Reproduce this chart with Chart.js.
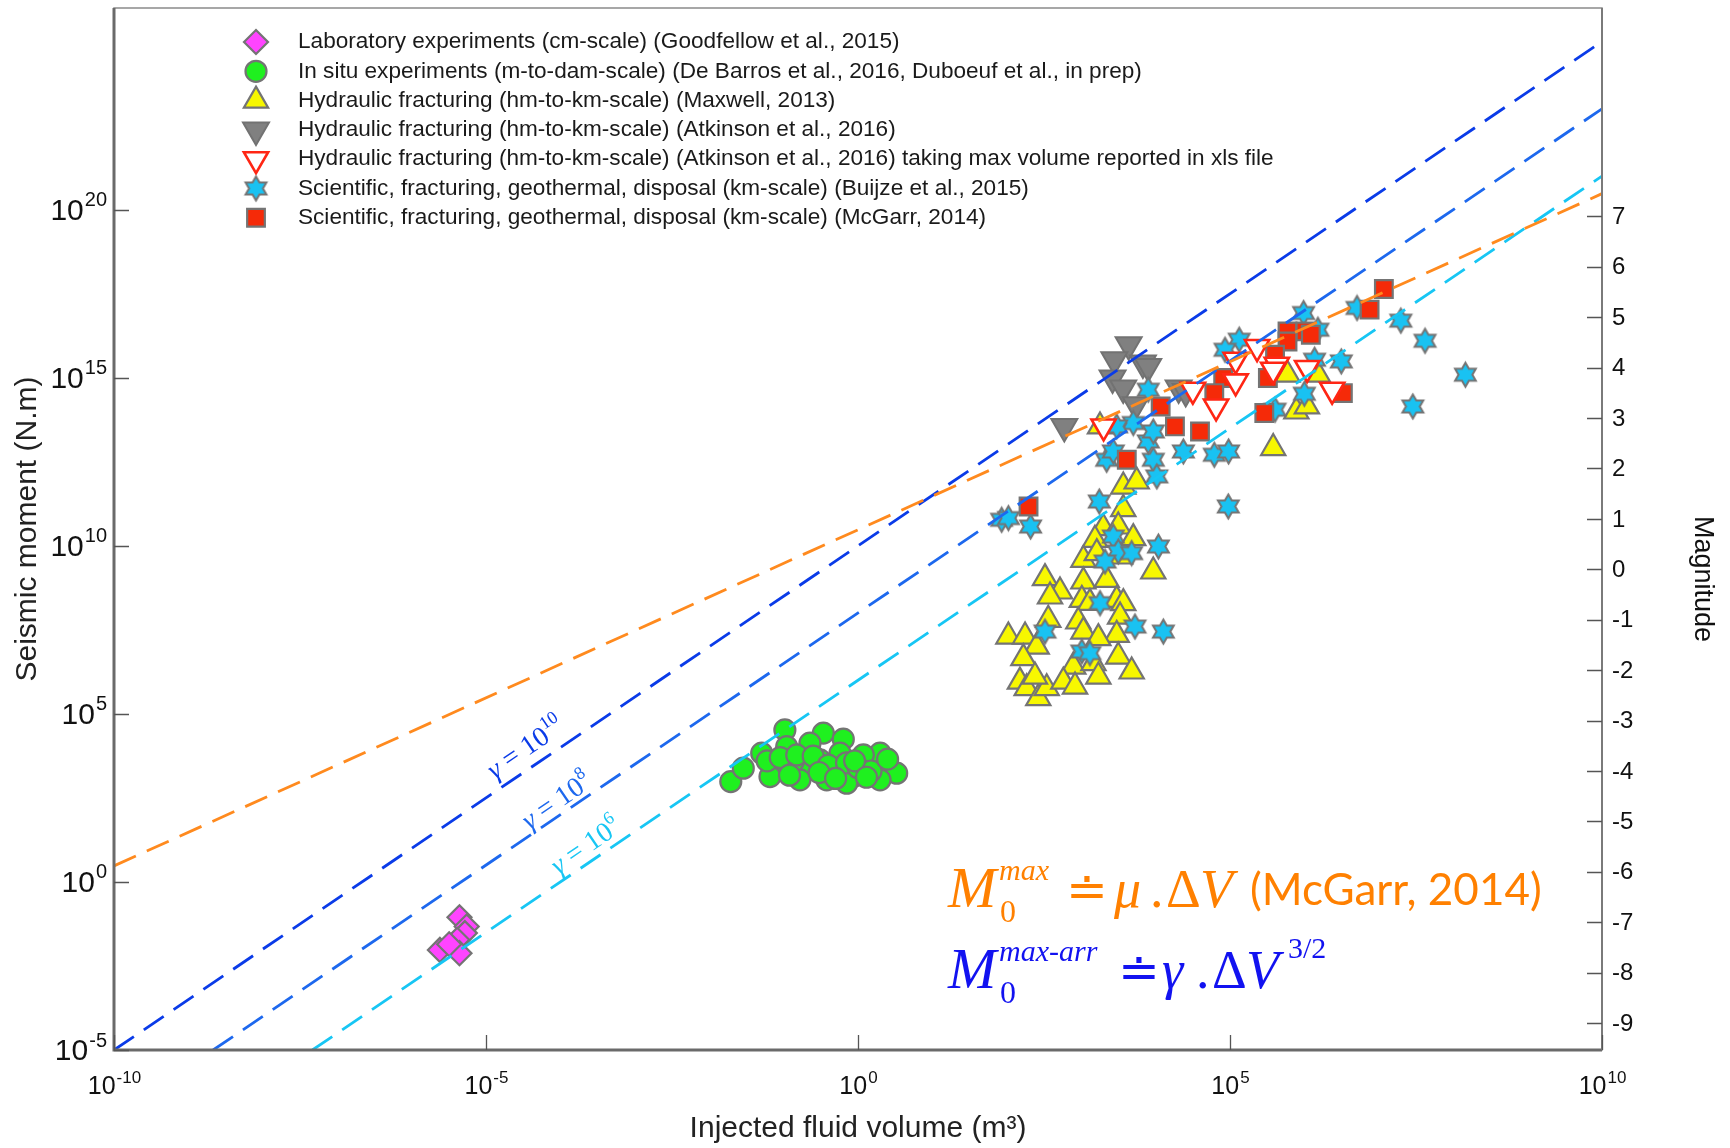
<!DOCTYPE html>
<html>
<head>
<meta charset="utf-8">
<script src="https://cdn.jsdelivr.net/npm/chart.js@4.4.0/dist/chart.umd.min.js"></script>
<style>
  html, body { margin: 0; padding: 0; background: #fff; }
</style>
</head>
<body>
<canvas id="momentChart" width="1730" height="1148"></canvas>
<script>
// Seismic moment vs injected fluid volume

// axis ticks
const volumeTicks = [1e-10, 1e-5, 1, 1e5, 1e10];
const momentTicks = [1e-5, 1, 1e5, 1e10, 1e15, 1e20];
const magnitudeTicks = [-9, -8, -7, -6, -5, -4, -3, -2, -1, 0, 1, 2, 3, 4, 5, 6, 7];

// Laboratory experiments (Goodfellow et al., 2015)
const labVolume = [4.4e-6, 5.5e-6, 5.2e-6, 2.4e-6, 4.1e-6, 4.4e-6, 3.2e-6];
const labMoment = [0.089, 0.047, 0.03, 0.0095, 0.019, 0.0076, 0.014];

// In situ experiments (De Barros et al., Duboeuf et al.)
const insituVolume = [0.0195, 0.0287, 0.104, 0.342, 0.634, 0.0508, 0.204, 1.98, 3.31, 1.98, 0.865, 0.0807,
  0.166, 0.466, 1.18, 0.226, 0.11, 0.0656, 0.573, 0.308, 0.135, 0.705, 0.38, 0.06, 0.09, 0.15, 0.25,
  0.4, 0.7, 1.0, 1.5, 2.5, 0.12, 0.3, 0.5, 0.9, 1.3];
const insituMoment = [966, 2420, 33400, 26700, 17700, 6760, 2700, 6760, 1720, 1090, 1360, 2150,
  1090, 1720, 6030, 13400, 10600, 1360, 6760, 4280, 3800, 865, 1090, 4000, 5000, 6000, 5500,
  3000, 3500, 2500, 2000, 4500, 1500, 1800, 1200, 4000, 1300];

// Hydraulic fracturing (Maxwell, 2013)
const maxwellVolume = [3680, 1980, 3150, 5010, 1530, 1070, 1620, 3330, 9310, 326, 519, 381, 1070, 2200,
  1020, 1310, 3000, 3680, 361, 914, 3330, 1070, 3000, 1700, 105, 176, 252, 167, 3150, 783, 1460, 4770,
  1700, 150, 185, 265, 344, 575, 826, 239, 3680, 5570, 5.93e5, 1.52e6, 7.8e5, 1.08e6, 3.81e5, 1790];
const maxwellMoment = [1.24e11, 3.37e10, 3.75e10, 1.69e10, 1.51e10, 3.83e9, 6.07e9, 4.8e9, 1.72e9, 1.09e9,
  4.37e8, 3.1e8, 8.67e8, 9.7e8, 2.47e8, 2.01e8, 2.47e8, 1.97e8, 6.28e7, 5.59e7, 7.87e7, 2.81e7, 2.24e7,
  1.79e7, 2e7, 2e7, 1.0e7, 4.55e6, 5.07e6, 2.56e6, 3.23e6, 1.82e6, 1.29e6, 9.1e5, 5.8e5, 2.93e5, 5.8e5,
  9.1e5, 6.5e5, 1.29e6, 5.8e11, 8.2e11, 1.23e15, 1.23e15, 9.9e13, 1.4e14, 8.1e12, 3.56e13];

// Hydraulic fracturing (Atkinson et al., 2016)
const atkinsonVolume = [4340, 2790, 6750, 7960, 2640, 3670, 5400, 20400, 25400, 593];
const atkinsonMoment = [9.6e15, 3.44e15, 2.74e15, 2.17e15, 9.8e14, 4.93e14, 1.57e14, 4.93e14, 3.9e14, 3.56e13];

// Atkinson et al., 2016 with max volume from xls file
const atkinsonMaxVolume = [2000, 3.17e4, 1.19e5, 1.19e5, 6.5e4, 2.31e5, 4.26e5, 3.81e5, 1.09e6, 2.36e6];
const atkinsonMaxMoment = [3.56e13, 4.4e14, 3.44e15, 7.8e14, 1.4e14, 8.2e15, 2.44e15, 1.73e15, 1.95e15, 4.4e14];

// Buijze et al., 2015
const buijzeVolume = [85.3, 105, 209, 1750, 2700, 3150, 4770, 2090, 10900, 2200, 2700, 9310, 10400, 7980,
  9310, 23600, 5010, 3000, 94800, 1790, 326, 5280, 12700, 1020, 1310, 9.75e5, 5.1e6, 1.98e7, 4.18e7,
  1.46e8, 2.87e7, 1.33e5, 8.57e4, 1.52e6, 1.37e6, 3.13e6, 9.98e5, 4.03e5, 7960, 6.15e4, 9.57e4];
const buijzeMoment = [5.94e10, 6.67e10, 3.75e10, 2.08e11, 1.89e10, 6.76e9, 6.07e9, 3.41e9, 9.5e9, 3.63e12,
  6.4e12, 3.63e12, 1.16e12, 1.27e13, 2.52e13, 6.4e12, 4.49e13, 3.56e13, 1.48e11, 1.97e8, 2.81e7, 3.96e7,
  2.81e7, 7.15e6, 6.4e6, 8.4e16, 1.19e17, 5e16, 1.26e16, 1.23e15, 1.4e14, 1.35e16, 6.8e15, 2.68e16,
  3.44e15, 3.06e15, 3.34e14, 1.12e14, 4.4e14, 5.1e12, 6.4e12];

// McGarr, 2014
const mcgarrVolume = [1.17e7, 7.52e6, 5.93e5, 1.03e6, 5.93e5, 1.22e6, 4.03e5, 3.23e5, 8.1e4, 6.15e4, 3.29e6,
  2.89e5, 1.17e4, 1.82e4, 3.95e4, 4100, 196];
const mcgarrMoment = [4.37e17, 1.06e17, 2.39e16, 2.39e16, 1.2e16, 1.9e16, 4.84e15, 9.8e14, 9.8e14, 3.5e14,
  3.5e14, 8.9e13, 1.4e14, 3.56e13, 2.52e13, 3.63e12, 1.48e11];

// bound lines (end points)
const mcgarrLineVolume = [1e-10, 1e10];
const mcgarrLineMoment = [3, 3e20];
const gamma10Volume = [1e-10, 1e10];
const gamma10Moment = [1e-5, 1e25];
const gamma8Volume = [2.15e-9, 1e10];
const gamma8Moment = [1e-5, 1e23];
const gamma6Volume = [4.64e-8, 1e10];
const gamma6Moment = [1e-5, 1e21];

const SANS = '"Liberation Sans", Arial, Helvetica, sans-serif';
const SERIF = '"Liberation Serif", "Times New Roman", serif';
const GREY = '#747474';

Chart.defaults.font.family = SANS;
Chart.defaults.color = '#111';

function pairs(xs, ys) {
  return xs.map((x, i) => ({ x: x, y: ys[i] }));
}

function makeStar(r, fill, stroke) {
  const size = Math.ceil(2 * r + 5);
  const c = document.createElement('canvas');
  c.width = size;
  c.height = size;
  const g = c.getContext('2d');
  g.translate(size / 2, size / 2);
  g.beginPath();
  for (let i = 0; i < 12; i++) {
    const rr = i % 2 === 0 ? r : r / Math.sqrt(3);
    const a = -Math.PI / 2 + i * Math.PI / 6;
    if (i === 0) g.moveTo(rr * Math.cos(a), rr * Math.sin(a));
    else g.lineTo(rr * Math.cos(a), rr * Math.sin(a));
  }
  g.closePath();
  g.fillStyle = fill;
  g.fill();
  g.lineWidth = 2;
  g.strokeStyle = stroke;
  g.stroke();
  return c;
}

const starImg = makeStar(12, '#19c2f2', GREY);

function boundLine(xs, ys, color) {
  return {
    data: pairs(xs, ys), showLine: true, borderColor: color, borderWidth: 2.8,
    borderDash: [24, 12], pointRadius: 0, fill: false, order: 0
  };
}

const datasets = [
  boundLine(mcgarrLineVolume, mcgarrLineMoment, '#ff8a1e'),
  boundLine(gamma10Volume, gamma10Moment, '#0a3be8'),
  boundLine(gamma8Volume, gamma8Moment, '#1d68ee'),
  boundLine(gamma6Volume, gamma6Moment, '#17c6f4'),
  {
    label: 'Laboratory experiments (cm-scale) (Goodfellow et al., 2015)',
    data: pairs(labVolume, labMoment), pointStyle: 'rectRot', pointRadius: 12,
    backgroundColor: '#ff44ff', borderColor: GREY, borderWidth: 2.2, order: 7
  },
  {
    label: 'In situ experiments (m-to-dam-scale) (De Barros et al., 2016, Duboeuf et al., in prep)',
    data: pairs(insituVolume, insituMoment), pointStyle: 'circle', pointRadius: 10.5,
    backgroundColor: '#1ff01f', borderColor: GREY, borderWidth: 2.2, order: 6
  },
  {
    label: 'Hydraulic fracturing (hm-to-km-scale) (Maxwell, 2013)',
    data: pairs(maxwellVolume, maxwellMoment), pointStyle: 'triangle', pointRadius: 14,
    backgroundColor: '#f7f700', borderColor: GREY, borderWidth: 2.2, order: 5
  },
  {
    label: 'Hydraulic fracturing (hm-to-km-scale) (Atkinson et al., 2016)',
    data: pairs(atkinsonVolume, atkinsonMoment), pointStyle: 'triangle', pointRadius: 15, rotation: 180,
    backgroundColor: '#808080', borderColor: '#727272', borderWidth: 2, order: 4
  },
  {
    label: 'Hydraulic fracturing (hm-to-km-scale) (Atkinson et al., 2016) taking max volume reported in xls file',
    data: pairs(atkinsonMaxVolume, atkinsonMaxMoment), pointStyle: 'triangle', pointRadius: 14, rotation: 180,
    backgroundColor: '#ffffff', borderColor: '#ff2614', borderWidth: 2.6, order: 1
  },
  {
    label: 'Scientific, fracturing, geothermal, disposal (km-scale) (Buijze et al., 2015)',
    data: pairs(buijzeVolume, buijzeMoment), pointStyle: starImg, pointRadius: 12,
    backgroundColor: '#19c2f2', borderColor: GREY, borderWidth: 2, order: 3
  },
  {
    label: 'Scientific, fracturing, geothermal, disposal (km-scale) (McGarr, 2014)',
    data: pairs(mcgarrVolume, mcgarrMoment), pointStyle: 'rect', pointRadius: 12.5,
    backgroundColor: '#f52a08', borderColor: GREY, borderWidth: 2.2, order: 2
  }
];

function drawPower(ctx, exp, x, y, size, supSize, align) {
  ctx.font = size + 'px ' + SANS;
  const wb = ctx.measureText('10').width;
  ctx.font = supSize + 'px ' + SANS;
  const we = ctx.measureText(exp).width;
  const x0 = align === 'right' ? x - wb - we : x - (wb + we) / 2;
  ctx.textAlign = 'left';
  ctx.textBaseline = 'alphabetic';
  ctx.font = size + 'px ' + SANS;
  ctx.fillText('10', x0, y);
  ctx.font = supSize + 'px ' + SANS;
  ctx.fillText(exp, x0 + wb + 1, y - size * 0.45);
}

function drawRuns(ctx, color, runs) {
  ctx.fillStyle = color;
  ctx.textAlign = 'left';
  ctx.textBaseline = 'alphabetic';
  runs.forEach(r => {
    ctx.font = r.f;
    ctx.fillText(r.t, r.x, r.y);
  });
}

const overlay = {
  id: 'overlay',
  afterDraw(chart) {
    const ctx = chart.ctx;
    const area = chart.chartArea;
    const xs = chart.scales.x, ys = chart.scales.y, ms = chart.scales.y2;
    ctx.save();

    // frame
    ctx.strokeStyle = '#8a8a8a';
    ctx.lineWidth = 1.5;
    ctx.strokeRect(area.left, area.top, area.right - area.left, area.bottom - area.top);
    ctx.strokeStyle = '#6a6a6a';
    ctx.lineWidth = 3;
    ctx.beginPath();
    ctx.moveTo(area.left, area.top);
    ctx.lineTo(area.left, area.bottom);
    ctx.lineTo(area.right, area.bottom);
    ctx.stroke();
    ctx.lineWidth = 2;
    ctx.strokeStyle = '#7a7a7a';
    ctx.beginPath();
    ctx.moveTo(area.right, area.top);
    ctx.lineTo(area.right, area.bottom);
    ctx.stroke();

    // inward tick marks
    ctx.strokeStyle = '#555';
    ctx.lineWidth = 1.3;
    ctx.beginPath();
    volumeTicks.forEach(v => {
      const px = Math.round(xs.getPixelForValue(v)) + 0.5;
      ctx.moveTo(px, area.bottom);
      ctx.lineTo(px, area.bottom - 15);
    });
    momentTicks.forEach(v => {
      const py = Math.round(ys.getPixelForValue(v)) + 0.5;
      ctx.moveTo(area.left, py);
      ctx.lineTo(area.left + 15, py);
    });
    magnitudeTicks.forEach(m => {
      const py = Math.round(ms.getPixelForValue(m)) + 0.5;
      ctx.moveTo(area.right, py);
      ctx.lineTo(area.right - 15, py);
    });
    ctx.stroke();

    // tick labels
    ctx.fillStyle = '#111';
    momentTicks.forEach(v => {
      const e = String(Math.round(Math.log10(v)));
      drawPower(ctx, e, 106, ys.getPixelForValue(v) + 10, 30, 20, 'right');
    });
    volumeTicks.forEach(v => {
      const e = String(Math.round(Math.log10(v)));
      drawPower(ctx, e, xs.getPixelForValue(v), 1094, 25, 17, 'center');
    });
    ctx.font = '24px ' + SANS;
    ctx.textAlign = 'left';
    ctx.textBaseline = 'middle';
    magnitudeTicks.forEach(m => {
      ctx.fillText(String(m), area.right + 10, ms.getPixelForValue(m) + 1);
    });

    // right axis title
    ctx.save();
    ctx.translate(1702, 579);
    ctx.rotate(Math.PI / 2);
    ctx.font = '27px ' + SANS;
    ctx.textAlign = 'center';
    ctx.textBaseline = 'middle';
    ctx.fillText('Magnitude', 0, 0);
    ctx.restore();

    // gamma labels along the bound lines
    const gammaLabels = [
      { exp: '10', x: 525, y: 747, color: '#0a3be8' },
      { exp: '8', x: 556, y: 800, color: '#1d68ee' },
      { exp: '6', x: 585, y: 845, color: '#17c6f4' }
    ];
    const p0 = { x: xs.getPixelForValue(gamma10Volume[0]), y: ys.getPixelForValue(gamma10Moment[0]) };
    const p1 = { x: xs.getPixelForValue(gamma10Volume[1]), y: ys.getPixelForValue(gamma10Moment[1]) };
    const angle = Math.atan2(p1.y - p0.y, p1.x - p0.x);
    gammaLabels.forEach(g => {
      ctx.save();
      ctx.translate(g.x, g.y);
      ctx.rotate(angle);
      ctx.fillStyle = g.color;
      ctx.textBaseline = 'middle';
      ctx.textAlign = 'left';
      ctx.font = 'italic 28px ' + SERIF;
      const w1 = ctx.measureText('γ').width;
      ctx.font = '28px ' + SERIF;
      const w2 = ctx.measureText(' = 10').width;
      ctx.font = '18px ' + SERIF;
      const w3 = ctx.measureText(g.exp).width;
      const x0 = -(w1 + w2 + w3) / 2;
      ctx.font = 'italic 28px ' + SERIF;
      ctx.fillText('γ', x0, 3);
      ctx.font = '28px ' + SERIF;
      ctx.fillText(' = 10', x0 + w1, 2);
      ctx.font = '18px ' + SERIF;
      ctx.fillText(g.exp, x0 + w1 + w2, -8);
      ctx.restore();
    });

    // formulas
    drawRuns(ctx, '#ff8000', [
      { t: 'M', f: 'italic 58px ' + SERIF, x: 948, y: 907 },
      { t: 'max', f: 'italic 30px ' + SERIF, x: 999, y: 880 },
      { t: '0', f: '32px ' + SERIF, x: 1000, y: 922 },
      { t: '≐', f: '50px ' + SERIF, x: 1066, y: 907 },
      { t: 'μ', f: 'italic 54px ' + SERIF, x: 1114, y: 907 },
      { t: '.', f: '54px ' + SERIF, x: 1150, y: 907 },
      { t: 'Δ', f: '54px ' + SERIF, x: 1166, y: 907 },
      { t: 'V', f: 'italic 54px ' + SERIF, x: 1200, y: 907 },
      { t: '(McGarr, 2014)', f: '44px Lato, ' + SANS, x: 1250, y: 905 }
    ]);
    drawRuns(ctx, '#1212f0', [
      { t: 'M', f: 'italic 58px ' + SERIF, x: 948, y: 988 },
      { t: 'max-arr', f: 'italic 30px ' + SERIF, x: 999, y: 961 },
      { t: '0', f: '32px ' + SERIF, x: 1000, y: 1003 },
      { t: '≐', f: '50px ' + SERIF, x: 1118, y: 988 },
      { t: 'γ', f: 'italic 54px ' + SERIF, x: 1162, y: 988 },
      { t: '.', f: '54px ' + SERIF, x: 1196, y: 988 },
      { t: 'Δ', f: '54px ' + SERIF, x: 1212, y: 988 },
      { t: 'V', f: 'italic 54px ' + SERIF, x: 1246, y: 988 },
      { t: '3/2', f: '30px ' + SERIF, x: 1288, y: 958 }
    ]);

    // legend inside the plot
    const items = chart.data.datasets.filter(d => d.label);
    items.forEach((d, i) => {
      const cy = 42 + i * 29.3;
      ctx.fillStyle = d.backgroundColor;
      ctx.strokeStyle = d.borderColor;
      ctx.lineWidth = d.borderWidth;
      Chart.helpers.drawPoint(ctx, {
        pointStyle: d.pointStyle, rotation: d.rotation || 0,
        radius: d.pointRadius, borderWidth: d.borderWidth
      }, 256, cy);
      ctx.fillStyle = '#1a1a1a';
      ctx.font = '22.6px ' + SANS;
      ctx.textAlign = 'left';
      ctx.textBaseline = 'middle';
      ctx.fillText(d.label, 298, cy);
    });

    ctx.restore();
  }
};

const chartCtx = document.getElementById('momentChart').getContext('2d');
new Chart(chartCtx, {
  type: 'scatter',
  data: { datasets: datasets },
  options: {
    responsive: false,
    animation: false,
    devicePixelRatio: 1,
    events: [],
    layout: { autoPadding: false, padding: { top: 8, left: 0, right: 0, bottom: 0 } },
    plugins: {
      legend: { display: false },
      tooltip: { enabled: false }
    },
    scales: {
      x: {
        type: 'logarithmic', position: 'bottom', min: 1e-10, max: 1e10,
        afterBuildTicks: s => { s.ticks = volumeTicks.map(v => ({ value: v })); },
        afterFit: s => { s.height = 98; },
        grid: { display: false, drawTicks: false },
        border: { display: false },
        ticks: { display: false },
        title: {
          display: true, text: 'Injected fluid volume (m³)', color: '#222',
          font: { size: 30 }, padding: { top: 0, bottom: 1 }
        }
      },
      y: {
        type: 'logarithmic', position: 'left', min: 1e-5, max: 1e26,
        afterBuildTicks: s => { s.ticks = momentTicks.map(v => ({ value: v })); },
        afterFit: s => { s.width = 114; },
        grid: { display: false, drawTicks: false },
        border: { display: false },
        ticks: { display: false },
        title: {
          display: true, text: 'Seismic moment (N.m)', color: '#222',
          font: { size: 30 }, padding: { top: 10, bottom: 0 }
        }
      },
      y2: {
        type: 'linear', position: 'right', min: -9.533, max: 11.133,
        afterBuildTicks: s => { s.ticks = magnitudeTicks.map(v => ({ value: v })); },
        afterFit: s => { s.width = 128; },
        grid: { display: false, drawTicks: false },
        border: { display: false },
        ticks: { display: false }
      }
    }
  },
  plugins: [overlay]
});
</script>
</body>
</html>
